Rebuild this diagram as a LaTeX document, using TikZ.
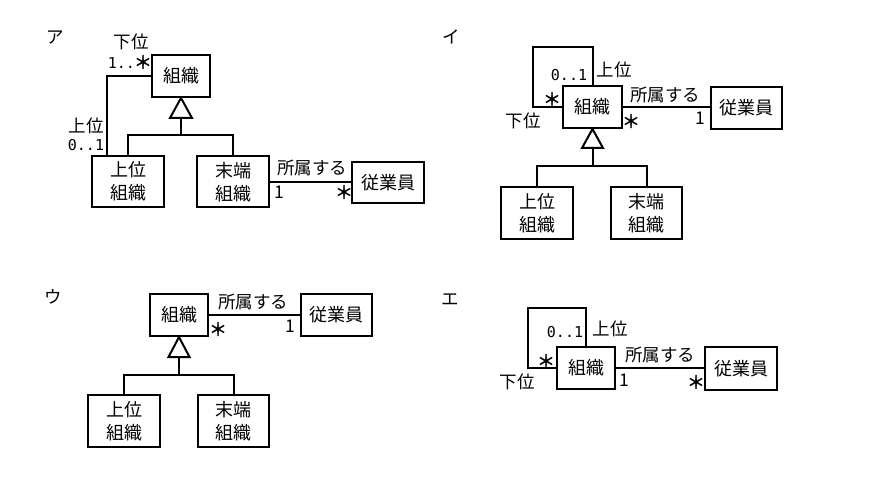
\documentclass[tikz,border=0pt]{standalone}
\usepackage{fontspec}
\setmainfont{Noto Sans CJK JP}
\newfontfamily\jpf{Noto Sans CJK JP}
\newfontfamily\starf{Noto Sans CJK JP}[FakeBold=2]
\newfontfamily\monof{DejaVu Sans Mono}
\newcommand{\bigast}{{\starf ＊}}
\begin{document}
\begin{tikzpicture}[x=1pt,y=-1pt,
  line width=2pt,
  box/.style={draw, line width=2pt, inner sep=0pt, align=center,
    font=\fontsize{18}{23}\selectfont\jpf},
  lbl/.style={inner sep=0pt, font=\fontsize{17.5}{20}\selectfont\jpf},
  mul/.style={inner sep=0pt, font=\fontsize{15}{18}\selectfont\monof},
  star/.style={inner sep=0pt, font=\fontsize{18}{20}\selectfont\starf},
  tri/.style={draw, line width=2pt, fill=white}]
\useasboundingbox (0,0) rectangle (881,494);

% ===== ア =====
\node[lbl] (pa) at (55,37) {ア};
\node[box, minimum width=58pt, minimum height=42pt] (o1) at (181,76) {組織};
\node[box, minimum width=72pt, minimum height=51pt] (u1) at (128,181.5) {上位\\組織};
\node[box, minimum width=72pt, minimum height=51pt] (m1) at (233,182) {末端\\組織};
\node[box, minimum width=72pt, minimum height=41pt] (e1) at (388,182.5) {従業員};
\coordinate (j1) at (181,135);
\draw (u1.north) |- (j1) -| (m1.north);
\draw (j1) -- ++(0,-18);
\draw[tri] (o1.south) -- ++(-11,20) -- ++(22,0) -- cycle;
\draw (m1.east) -- (m1.east -| e1.west);
\draw ([xshift=16pt]u1.north west) |- (o1.west);
\node[lbl] (a1) at (131,42) {下位};
\node[mul, anchor=east] (a2) at (136,63) {1..};
\node[star] (a2s) at (143,62) {\bigast};
\node[lbl] (a3) at (86,126) {上位};
\node[mul] (a4) at (86,145) {0..1};
\node[lbl] (a5) at (312,168) {所属する};
\node[lbl] (a6) at (279,192) {1};
\node[star] (a7) at (344,192) {\bigast};

% ===== イ =====
\node[lbl] (pi) at (451,37) {イ};
\node[box, minimum width=59pt, minimum height=42pt] (o2) at (592.5,107) {組織};
\node[box, minimum width=71pt, minimum height=42pt] (e2) at (746.5,108) {従業員};
\node[box, minimum width=72pt, minimum height=52pt] (u2) at (537,213) {上位\\組織};
\node[box, minimum width=71pt, minimum height=52pt] (m2) at (646.5,213) {末端\\組織};
\coordinate (l2) at (533,47);
\draw (o2.north) |- (l2) |- (o2.west);
\coordinate (j2) at (592.5,166);
\draw (u2.north) |- (j2) -| (m2.north);
\draw (j2) -- ++(0,-19);
\draw[tri] (o2.south) -- ++(-10.5,19) -- ++(21,0) -- cycle;
\draw (o2.east) -- (o2.east -| e2.west);
\node[mul] (b1) at (569,75) {0..1};
\node[lbl] (b2) at (614,70) {上位};
\node[star] (b3) at (552,99) {\bigast};
\node[lbl] (b4) at (523,121) {下位};
\node[lbl] (b5) at (665,95) {所属する};
\node[star] (b6) at (631,121) {\bigast};
\node[lbl] (b7) at (700,118) {1};

% ===== ウ =====
\node[lbl] (pu) at (53,297) {ウ};
\node[box, minimum width=58pt, minimum height=42pt] (o3) at (179,315) {組織};
\node[box, minimum width=71pt, minimum height=42pt] (e3) at (336.5,315) {従業員};
\node[box, minimum width=72pt, minimum height=52pt] (u3) at (124,421) {上位\\組織};
\node[box, minimum width=71pt, minimum height=52pt] (m3) at (233.5,421) {末端\\組織};
\coordinate (j3) at (179,375);
\draw (u3.north) |- (j3) -| (m3.north);
\draw (j3) -- ++(0,-19);
\draw[tri] (o3.south) -- ++(-10.5,20) -- ++(21,0) -- cycle;
\draw (o3.east) -- (e3.west);
\node[lbl] (c1) at (253,302) {所属する};
\node[star] (c2) at (218,329) {\bigast};
\node[lbl] (c3) at (290,326) {1};

% ===== エ =====
\node[lbl] (pe) at (450,300) {エ};
\node[box, minimum width=58pt, minimum height=42pt] (o4) at (586,368) {組織};
\node[box, minimum width=72pt, minimum height=43pt] (e4) at (741,368.5) {従業員};
\coordinate (l4) at (527.5,308);
\draw (o4.north) |- (l4) |- (o4.west);
\draw (o4.east) -- (o4.east -| e4.west);
\node[mul] (d1) at (565,332) {0..1};
\node[lbl] (d2) at (610,329) {上位};
\node[star] (d3) at (546,361) {\bigast};
\node[lbl] (d4) at (517,382) {下位};
\node[lbl] (d5) at (660,355) {所属する};
\node[lbl] (d6) at (624,380) {1};
\node[star] (d7) at (696,382) {\bigast};
\end{tikzpicture}
\end{document}
